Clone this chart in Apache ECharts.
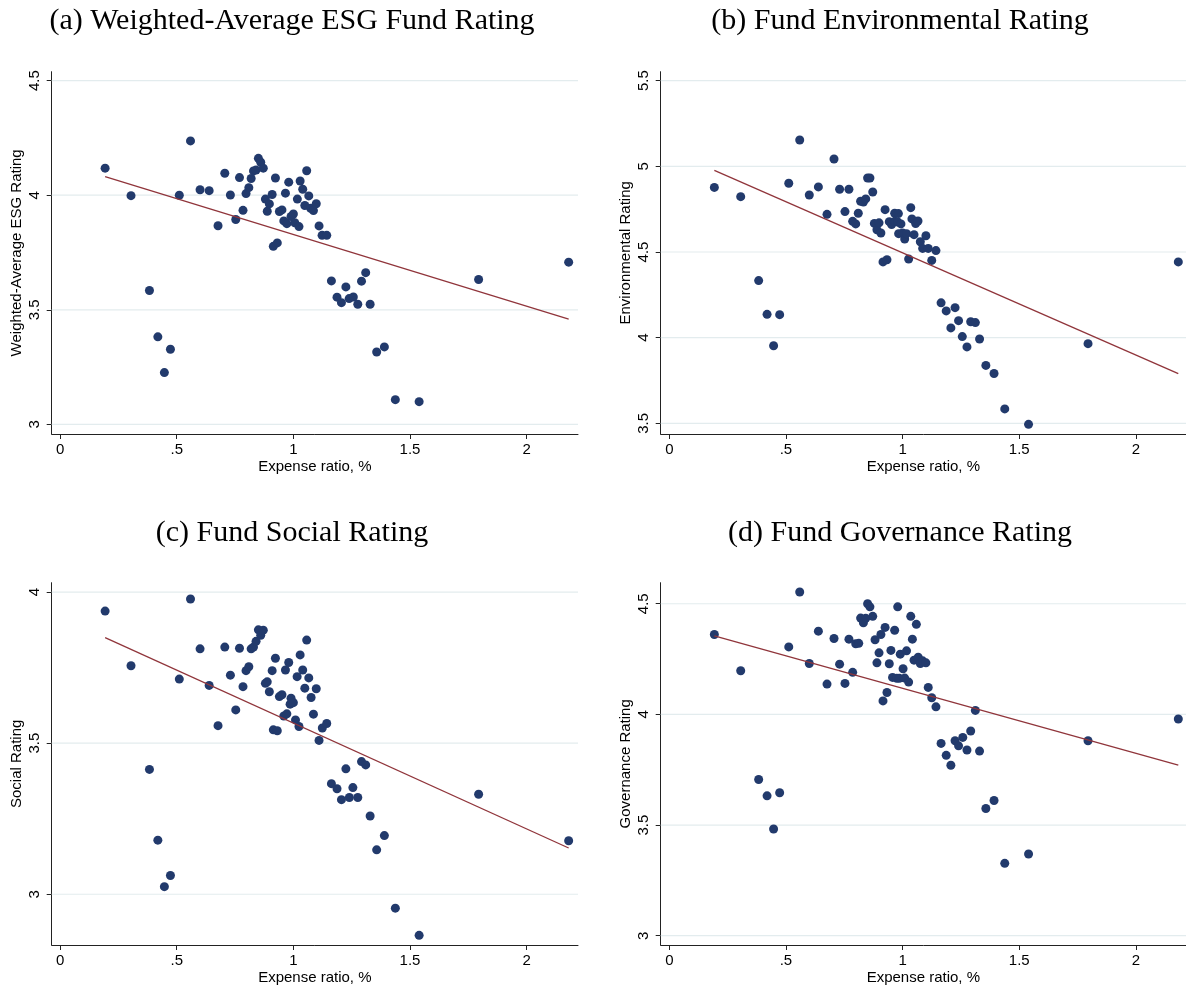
<!DOCTYPE html>
<html>
<head>
<meta charset="utf-8">
<title>Fund ESG ratings vs expense ratio</title>
<script src="https://cdn.jsdelivr.net/npm/echarts@6/dist/echarts.min.js"></script>
<style>
  html, body { margin: 0; padding: 0; background: #fff; }
  #chart { width: 1186px; height: 988px; }
</style>
</head>
<body>
<div id="chart"></div>
<script>
// Expense ratio (%) vs. rating, one point per fund
const esgPoints = [
  [0.193,4.118],[0.304,3.998],[0.383,3.584],[0.419,3.382],[0.447,3.226],[0.473,3.328],[0.511,4.000],[0.559,4.237],
  [0.600,4.024],[0.639,4.020],[0.677,3.867],[0.706,4.096],[0.730,4.001],[0.753,3.894],[0.769,4.077],[0.784,3.934],
  [0.797,4.007],[0.809,4.033],[0.819,4.073],[0.829,4.106],[0.840,4.110],[0.850,4.161],[0.860,4.144],[0.871,4.118],
  [0.880,3.983],[0.888,3.930],[0.897,3.962],[0.909,4.003],[0.914,3.777],[0.923,4.075],[0.931,3.792],[0.940,3.929],
  [0.951,3.936],[0.959,3.888],[0.966,4.009],[0.972,3.876],[0.980,4.057],[0.990,3.907],[1.000,3.918],[1.006,3.880],
  [1.017,3.983],[1.024,3.863],[1.029,4.062],[1.040,4.026],[1.049,3.955],[1.057,4.107],[1.066,3.997],[1.074,3.943],
  [1.086,3.933],[1.098,3.963],[1.110,3.866],[1.123,3.825],[1.143,3.825],[1.163,3.626],[1.187,3.555],[1.206,3.531],
  [1.225,3.600],[1.239,3.549],[1.257,3.556],[1.276,3.524],[1.292,3.625],[1.310,3.662],[1.329,3.524],[1.357,3.316],
  [1.390,3.338],[1.437,3.108],[1.539,3.099],[1.794,3.632],[2.180,3.708]
];
const envPoints = [
  [0.193,4.877],[0.306,4.823],[0.383,4.333],[0.419,4.136],[0.447,3.953],[0.473,4.134],[0.512,4.901],[0.559,5.154],
  [0.600,4.833],[0.639,4.880],[0.676,4.720],[0.706,5.043],[0.730,4.866],[0.753,4.736],[0.770,4.866],[0.786,4.679],
  [0.799,4.664],[0.810,4.726],[0.820,4.796],[0.832,4.792],[0.842,4.810],[0.850,4.932],[0.860,4.932],[0.872,4.850],
  [0.879,4.667],[0.890,4.630],[0.899,4.670],[0.907,4.611],[0.916,4.442],[0.925,4.747],[0.933,4.455],[0.943,4.677],
  [0.953,4.660],[0.966,4.726],[0.967,4.679],[0.979,4.675],[0.982,4.724],[0.983,4.607],[0.993,4.664],[1.000,4.611],
  [1.009,4.576],[1.017,4.607],[1.026,4.459],[1.035,4.759],[1.040,4.693],[1.049,4.601],[1.056,4.666],[1.066,4.681],
  [1.076,4.560],[1.086,4.521],[1.100,4.595],[1.110,4.521],[1.125,4.451],[1.143,4.508],[1.165,4.203],[1.187,4.156],
  [1.207,4.057],[1.225,4.175],[1.240,4.099],[1.256,4.006],[1.276,3.946],[1.292,4.093],[1.312,4.088],[1.330,3.992],
  [1.357,3.838],[1.392,3.791],[1.438,3.584],[1.540,3.494],[1.795,3.965],[2.182,4.442]
];
const socPoints = [
  [0.193,3.937],[0.304,3.756],[0.383,3.413],[0.419,3.179],[0.447,3.025],[0.473,3.062],[0.511,3.712],[0.559,3.977],
  [0.600,3.812],[0.639,3.691],[0.677,3.558],[0.706,3.818],[0.730,3.725],[0.753,3.610],[0.769,3.814],[0.784,3.687],
  [0.797,3.740],[0.809,3.753],[0.819,3.812],[0.829,3.818],[0.840,3.837],[0.850,3.875],[0.860,3.857],[0.871,3.874],
  [0.880,3.698],[0.888,3.703],[0.897,3.670],[0.909,3.740],[0.914,3.544],[0.923,3.781],[0.931,3.541],[0.940,3.654],
  [0.951,3.660],[0.959,3.590],[0.966,3.742],[0.972,3.597],[0.980,3.767],[0.986,3.629],[0.990,3.649],[1.000,3.634],
  [1.009,3.577],[1.016,3.720],[1.024,3.555],[1.029,3.792],[1.040,3.742],[1.049,3.682],[1.057,3.841],[1.066,3.716],
  [1.076,3.651],[1.086,3.596],[1.098,3.680],[1.110,3.509],[1.124,3.550],[1.143,3.565],[1.163,3.366],[1.187,3.349],
  [1.206,3.313],[1.225,3.415],[1.240,3.320],[1.255,3.353],[1.276,3.320],[1.292,3.439],[1.310,3.428],[1.329,3.259],
  [1.357,3.147],[1.390,3.194],[1.437,2.954],[1.539,2.864],[1.794,3.331],[2.180,3.177]
];
const govPoints = [
  [0.193,4.361],[0.306,4.197],[0.383,3.706],[0.419,3.632],[0.447,3.482],[0.473,3.646],[0.512,4.305],[0.559,4.553],
  [0.600,4.230],[0.639,4.376],[0.676,4.137],[0.706,4.343],[0.730,4.227],[0.753,4.140],[0.770,4.340],[0.786,4.190],
  [0.799,4.319],[0.812,4.321],[0.820,4.435],[0.832,4.414],[0.842,4.434],[0.850,4.500],[0.860,4.486],[0.872,4.443],
  [0.882,4.337],[0.890,4.233],[0.899,4.278],[0.907,4.361],[0.916,4.061],[0.925,4.393],[0.933,4.099],[0.943,4.229],
  [0.950,4.289],[0.957,4.167],[0.966,4.380],[0.975,4.163],[0.979,4.486],[0.986,4.163],[0.990,4.272],[1.002,4.206],
  [1.009,4.164],[1.017,4.287],[1.026,4.146],[1.035,4.443],[1.042,4.340],[1.049,4.245],[1.059,4.407],[1.067,4.258],
  [1.076,4.230],[1.086,4.242],[1.100,4.233],[1.110,4.122],[1.125,4.075],[1.143,4.034],[1.165,3.869],[1.187,3.815],
  [1.207,3.770],[1.225,3.881],[1.240,3.858],[1.258,3.896],[1.276,3.839],[1.292,3.925],[1.312,4.018],[1.330,3.834],
  [1.357,3.575],[1.392,3.611],[1.438,3.327],[1.540,3.369],[1.795,3.881],[2.182,3.979]
];

// Linear fit lines (endpoints at the smallest and largest expense ratio)
const esgFit = [[0.193,4.081],[2.180,3.459]];
const envFit = [[0.193,4.977],[2.182,3.790]];
const socFit = [[0.193,3.849],[2.180,3.153]];
const govFit = [[0.193,4.355],[2.182,3.771]];

// Tick values
const xTicks = [0, 0.5, 1, 1.5, 2];
const esgTicks = [3, 3.5, 4, 4.5];
const envTicks = [3.5, 4, 4.5, 5, 5.5];
const socTicks = [3, 3.5, 4];
const govTicks = [3, 3.5, 4, 4.5];

// Panel titles and axis names
const panelTitles = [
  '(a) Weighted-Average ESG Fund Rating',
  '(b) Fund Environmental Rating',
  '(c) Fund Social Rating',
  '(d) Fund Governance Rating'
];
const yNames = ['Weighted-Average ESG Rating', 'Environmental Rating', 'Social Rating', 'Governance Rating'];
const xName = 'Expense ratio, %';

const DOT = '#223a6c';
const FIT = '#90353b';
const GRIDLINE = '#e3ecee';
const AXIS = '#222';

// Layout of the four plot regions
const panels = [
  { points: esgPoints, fit: esgFit, yTicks: esgTicks, left: 51.7, top: 71.7, width: 526.3, height: 362.3,
    xMin: -0.036, xMax: 2.220, yMin: 2.958, yMax: 4.539, titleX: 292, titleY: 21 },
  { points: envPoints, fit: envFit, yTicks: envTicks, left: 660.7, top: 71.7, width: 525.3, height: 362.3,
    xMin: -0.037, xMax: 2.215, yMin: 3.4375, yMax: 5.5525, titleX: 900, titleY: 21 },
  { points: socPoints, fit: socFit, yTicks: socTicks, left: 51.7, top: 582.7, width: 526.3, height: 362.3,
    xMin: -0.036, xMax: 2.220, yMin: 2.832, yMax: 4.031, titleX: 292, titleY: 533 },
  { points: govPoints, fit: govFit, yTicks: govTicks, left: 660.7, top: 582.7, width: 525.3, height: 362.3,
    xMin: -0.037, xMax: 2.215, yMin: 2.958, yMax: 4.595, titleX: 900, titleY: 533 }
];

const fmtX = v => (v > 0 && v < 1) ? String(v).replace(/^0\./, '.') : String(v);

const grid = [], xAxis = [], yAxis = [], series = [], graphic = [];

panels.forEach((p, i) => {
  grid.push({ left: p.left, top: p.top, width: p.width, height: p.height, containLabel: false });

  xAxis.push({
    type: 'value', gridIndex: i, min: p.xMin, max: p.xMax,
    name: xName, nameLocation: 'middle', nameGap: 25,
    nameTextStyle: { fontFamily: 'Liberation Sans', fontSize: 15, color: '#000' },
    axisLine: { show: true, onZero: false, lineStyle: { color: AXIS, width: 1 } },
    axisTick: { show: true, length: 5, customValues: xTicks, lineStyle: { color: AXIS } },
    axisLabel: { customValues: xTicks, formatter: fmtX, margin: 8,
      fontFamily: 'Liberation Sans', fontSize: 15, color: '#000' },
    splitLine: { show: false }
  });

  yAxis.push({
    type: 'value', gridIndex: i, min: p.yMin, max: p.yMax,
    name: yNames[i], nameLocation: 'middle', nameGap: 27, nameRotate: 90,
    nameTextStyle: { fontFamily: 'Liberation Sans', fontSize: 15, color: '#000' },
    axisLine: { show: true, onZero: false, lineStyle: { color: AXIS, width: 1 } },
    axisTick: { show: true, length: 5, customValues: p.yTicks, lineStyle: { color: AXIS } },
    axisLabel: { customValues: p.yTicks, rotate: 90, margin: 9, formatter: v => String(v),
      fontFamily: 'Liberation Sans', fontSize: 15, color: '#000' },
    splitLine: { show: false }
  });

  // horizontal reference lines across the plot at each y tick
  p.yTicks.forEach(v => {
    series.push({
      type: 'line', xAxisIndex: i, yAxisIndex: i, z: 1, silent: true,
      data: [[p.xMin, v], [p.xMax, v]],
      showSymbol: false, symbol: 'none',
      lineStyle: { color: GRIDLINE, width: 1.2 },
      emphasis: { disabled: true }
    });
  });

  series.push({
    type: 'scatter', xAxisIndex: i, yAxisIndex: i, data: p.points, z: 3,
    symbol: 'circle', symbolSize: 9,
    itemStyle: { color: DOT, opacity: 1 }
  });

  series.push({
    type: 'line', xAxisIndex: i, yAxisIndex: i, data: p.fit, z: 4,
    showSymbol: false, symbol: 'none',
    lineStyle: { color: FIT, width: 1.3 }
  });

  graphic.push({
    type: 'text', x: p.titleX, y: p.titleY,
    style: {
      text: panelTitles[i], fill: '#000',
      font: '30px "Liberation Serif", serif',
      textAlign: 'center', textVerticalAlign: 'middle'
    }
  });
});

const chart = echarts.init(document.getElementById('chart'), null, { renderer: 'canvas' });
chart.setOption({
  animation: false,
  backgroundColor: '#fff',
  grid, xAxis, yAxis, series, graphic
});
</script>
</body>
</html>
